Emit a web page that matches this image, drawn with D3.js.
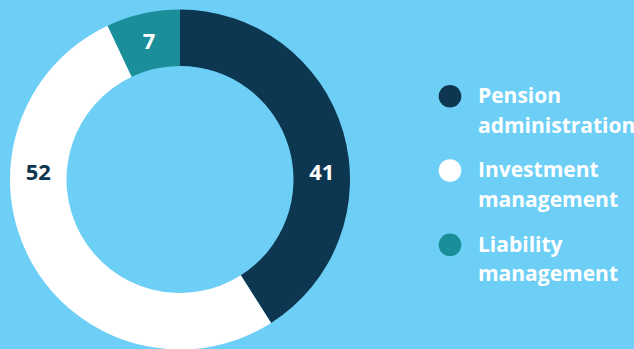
<!DOCTYPE html>
<html>
<head>
<meta charset="utf-8">
<script src="https://cdn.jsdelivr.net/npm/d3@7/dist/d3.min.js"></script>
<style>
  html, body { margin: 0; padding: 0; background: #6dcff6; }
  svg { display: block; }
  text { font-family: "Open Sans", "DejaVu Sans", sans-serif; font-weight: 700; }
</style>
</head>
<body>
<svg id="chart" width="634" height="349"></svg>
<script>
// Share of work by service line (percent)
const categories = ["Pension administration", "Investment management", "Liability management"];
const legendLines = [["Pension", "administration"], ["Investment", "management"], ["Liability", "management"]];
const values = [41, 52, 7];
const colors = ["#0d3651", "#ffffff", "#1a8e99"];
const labelColors = ["#ffffff", "#0d3651", "#ffffff"];

const W = 634, H = 349;
const cx = 180, cy = 179.5;
const outerR = 170, innerR = 113.5;
const labelR = (outerR + innerR) / 2;

const svg = d3.select("#chart");
svg.append("rect").attr("width", W).attr("height", H).attr("fill", "#6dcff6");

const pie = d3.pie().sort(null).value(d => d)(values);
const arc = d3.arc().innerRadius(innerR).outerRadius(outerR);

const ring = svg.append("g").attr("transform", `translate(${cx},${cy})`);

ring.selectAll("path.slice")
  .data(pie)
  .join("path")
  .attr("class", "slice")
  .attr("d", arc)
  .attr("fill", (d, i) => colors[i]);

// Large slices get their label on the ring's horizontal sides; small ones at the centroid.
function labelAngle(d) {
  const right = Math.PI / 2, left = 3 * Math.PI / 2;
  if (d.startAngle <= right && d.endAngle >= right) return right;
  if (d.startAngle <= left && d.endAngle >= left) return left;
  return (d.startAngle + d.endAngle) / 2;
}

ring.selectAll("text.value")
  .data(pie)
  .join("text")
  .attr("class", "value")
  .attr("x", d => labelR * Math.sin(labelAngle(d)))
  .attr("y", d => -labelR * Math.cos(labelAngle(d)))
  .attr("dy", d => {
    const a = labelAngle(d);
    return (a === Math.PI / 2 || a === 3 * Math.PI / 2) ? "0" : "0.36em";
  })
  .attr("text-anchor", "middle")
  .attr("font-size", 22)
  .attr("fill", (d, i) => labelColors[i])
  .text(d => d.data);

// Legend
const legend = svg.append("g").attr("transform", "translate(450,103)");
const item = legend.selectAll("g.item")
  .data(categories)
  .join("g")
  .attr("class", "item")
  .attr("transform", (d, i) => `translate(0,${i * 74.3})`);

item.append("circle")
  .attr("cx", 0)
  .attr("cy", -6.7)
  .attr("r", 11.3)
  .attr("fill", (d, i) => colors[i]);

item.append("text")
  .attr("x", 28)
  .attr("y", 0)
  .attr("font-size", 21)
  .attr("fill", "#ffffff")
  .selectAll("tspan")
  .data((d, i) => legendLines[i])
  .join("tspan")
  .attr("x", 28)
  .attr("dy", (d, j) => j === 0 ? 0 : 29.5)
  .text(d => d);
</script>
</body>
</html>
